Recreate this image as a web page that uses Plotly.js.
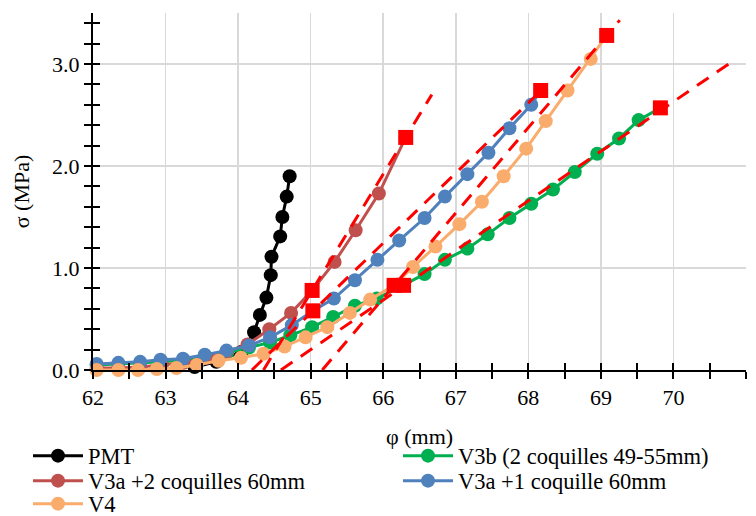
<!DOCTYPE html>
<html><head><meta charset="utf-8">
<script src="https://cdn.plot.ly/plotly-3.0.1.min.js"></script>
<style>body{margin:0}#c{width:756px;height:516px}</style>
</head><body><div id="c"></div>
<script>
// Series data (phi in mm, sigma in MPa)
const pmtX = [63.40, 63.70, 64.05, 64.22, 64.30, 64.39, 64.45, 64.46, 64.58, 64.61, 64.67, 64.71];
const pmtY = [0.03, 0.08, 0.18, 0.37, 0.54, 0.71, 0.93, 1.11, 1.31, 1.50, 1.70, 1.90];

const v3bX = [62.05, 62.35, 62.65, 62.95, 63.25, 63.55, 63.85, 64.15, 64.44, 64.72, 65.02, 65.31, 65.61, 65.91, 66.28, 66.57, 66.85, 67.16, 67.44, 67.74, 68.04, 68.34, 68.64, 68.95, 69.25, 69.52, 69.82];
const v3bY = [0.05, 0.06, 0.07, 0.08, 0.10, 0.13, 0.17, 0.22, 0.27, 0.34, 0.42, 0.52, 0.63, 0.70, 0.83, 0.94, 1.08, 1.19, 1.33, 1.49, 1.63, 1.77, 1.94, 2.12, 2.27, 2.45, 2.57];

const v3a2X = [62.05, 62.35, 62.65, 62.95, 63.25, 63.55, 63.84, 64.13, 64.43, 64.73, 65.02, 65.33, 65.62, 65.94, 66.31];
const v3a2Y = [0.02, 0.02, 0.03, 0.05, 0.07, 0.12, 0.18, 0.25, 0.40, 0.56, 0.78, 1.06, 1.37, 1.73, 2.28];

const v3a1X = [62.05, 62.35, 62.65, 62.93, 63.24, 63.54, 63.84, 64.15, 64.44, 64.74, 65.03, 65.32, 65.61, 65.92, 66.22, 66.57, 66.85, 67.16, 67.45, 67.74, 68.04, 68.17];
const v3a1Y = [0.06, 0.07, 0.08, 0.10, 0.11, 0.15, 0.19, 0.24, 0.32, 0.44, 0.58, 0.70, 0.88, 1.08, 1.27, 1.49, 1.70, 1.92, 2.13, 2.37, 2.60, 2.74];

const v4X = [62.05, 62.35, 62.62, 62.88, 63.15, 63.43, 63.73, 64.04, 64.35, 64.64, 64.93, 65.23, 65.54, 65.82, 66.15, 66.41, 66.72, 67.05, 67.36, 67.66, 67.97, 68.24, 68.54, 68.86, 69.08];
const v4Y = [0.00, 0.00, 0.00, 0.01, 0.02, 0.05, 0.09, 0.12, 0.16, 0.23, 0.32, 0.42, 0.56, 0.69, 0.83, 1.01, 1.21, 1.43, 1.65, 1.90, 2.17, 2.44, 2.74, 3.05, 3.28];

// Linear-fit reference lines (end points)
const fitV3a2X = [64.35, 66.67], fitV3a2Y = [0.00, 2.70];
const fitV3a1X = [64.19, 68.25], fitV3a1Y = [0.00, 2.79];
const fitV4X   = [65.16, 69.26], fitV4Y   = [0.00, 3.43];
const fitV3bX  = [64.59, 70.76], fitV3bY  = [0.00, 3.00];

// Fit anchor points (red squares)
const sqX = [65.02, 66.31, 65.03, 68.17, 66.15, 69.08, 66.28, 69.82];
const sqY = [0.78, 2.28, 0.58, 2.74, 0.83, 3.28, 0.83, 2.57];

const names = ['PMT', 'V3b (2 coquilles 49-55mm)', 'V3a +2 coquilles 60mm', 'V3a +1 coquille 60mm', 'V4'];
const colors = ['#000000', '#00B050', '#C0504D', '#4F81BD', '#F9AC6C'];
const xs = [pmtX, v3bX, v3a2X, v3a1X, v4X];
const ys = [pmtY, v3bY, v3a2Y, v3a1Y, v4Y];
const xTitle = 'φ (mm)';
const yTitle = 'σ (MPa)';

const font = 'Liberation Serif';
const legendIds = ['legend', 'legend2', 'legend3', 'legend4', 'legend5'];
const traces = [];
for (let i = 0; i < 5; i++) {
  traces.push({
    x: xs[i], y: ys[i], name: names[i], type: 'scatter', mode: 'lines+markers',
    line: {color: colors[i], width: 3}, marker: {color: colors[i], size: 14},
    cliponaxis: false, legend: legendIds[i]
  });
}
const fits = [[fitV3a2X, fitV3a2Y], [fitV3a1X, fitV3a1Y], [fitV4X, fitV4Y], [fitV3bX, fitV3bY]];
for (const f of fits) {
  traces.push({x: f[0], y: f[1], type: 'scatter', mode: 'lines', showlegend: false,
    line: {color: '#FF0000', width: 3, dash: '14px,10px'}, hoverinfo: 'skip', cliponaxis: false});
}
traces.push({x: sqX, y: sqY, type: 'scatter', mode: 'markers', showlegend: false,
  marker: {symbol: 'square', color: '#FF0000', size: 15}, cliponaxis: false});
// invisible trace for secondary (inside-tick) axes
traces.push({x: [62], y: [0], xaxis: 'x2', yaxis: 'y2', mode: 'markers', marker: {opacity: 0}, showlegend: false, hoverinfo: 'skip'});

function legendAt(xl, yc) {
  return {
    orientation: 'h', xref: 'container', yref: 'container', x: xl/756, y: 1 - yc/516,
    xanchor: 'left', yanchor: 'middle',
    itemwidth: 50, font: {family: font, size: 22.5, color: '#000'}, bgcolor: 'rgba(0,0,0,0)', borderwidth: 0
  };
}

const layout = {
  width: 756, height: 516,
  margin: {l: 93, r: 10, t: 13, b: 146},
  paper_bgcolor: '#ffffff', plot_bgcolor: '#ffffff',
  font: {family: font, size: 22, color: '#000'},
  showlegend: true,
  xaxis: {
    range: [62, 71], dtick: 1, tick0: 62, showgrid: true, gridcolor: '#D9D9D9', gridwidth: 1.5,
    zeroline: false, showline: true, linecolor: '#000', linewidth: 2,
    ticks: 'outside', ticklen: 7, tickwidth: 2, tickcolor: '#000',
    minor: {dtick: 0.5, ticks: 'outside', ticklen: 7, tickwidth: 2, tickcolor: '#000', showgrid: false},
    tickfont: {family: font, size: 22}
  },
  yaxis: {
    range: [0, 3.5], dtick: 1, tick0: 0, tickformat: '.1f', showgrid: true, gridcolor: '#D9D9D9', gridwidth: 1.5,
    zeroline: false, showline: true, linecolor: '#000', linewidth: 2,
    ticks: 'outside', ticklen: 7, tickwidth: 2, tickcolor: '#000',
    minor: {dtick: 0.2, ticks: 'outside', ticklen: 7, tickwidth: 2, tickcolor: '#000', showgrid: false},
    tickfont: {family: font, size: 22},
    title: {text: yTitle, font: {family: font, size: 22}, standoff: 16}
  },
  xaxis2: {overlaying: 'x', range: [62, 71], dtick: 1, tick0: 62, side: 'bottom', anchor: 'y2',
    showgrid: false, zeroline: false, showline: false, showticklabels: false,
    ticks: 'inside', ticklen: 7, tickwidth: 2, tickcolor: '#000',
    minor: {dtick: 0.5, ticks: 'inside', ticklen: 7, tickwidth: 2, tickcolor: '#000', showgrid: false}},
  yaxis2: {overlaying: 'y', range: [0, 3.5], dtick: 1, tick0: 0, side: 'left', anchor: 'x2',
    showgrid: false, zeroline: false, showline: false, showticklabels: false,
    ticks: 'inside', ticklen: 7, tickwidth: 2, tickcolor: '#000',
    minor: {dtick: 0.2, ticks: 'inside', ticklen: 7, tickwidth: 2, tickcolor: '#000', showgrid: false}},
  annotations: [{text: xTitle, xref: 'paper', yref: 'paper', x: 0.5, y: (370 - 436) / 357,
    xanchor: 'center', yanchor: 'middle', showarrow: false, font: {family: font, size: 22, color: '#000'}}],
  legend: legendAt(28, 456),
  legend2: legendAt(398, 456),
  legend3: legendAt(28, 481),
  legend4: legendAt(398, 481),
  legend5: legendAt(28, 504)
};
Plotly.newPlot('c', traces, layout, {displayModeBar: false, staticPlot: true});
</script>
</body></html>
